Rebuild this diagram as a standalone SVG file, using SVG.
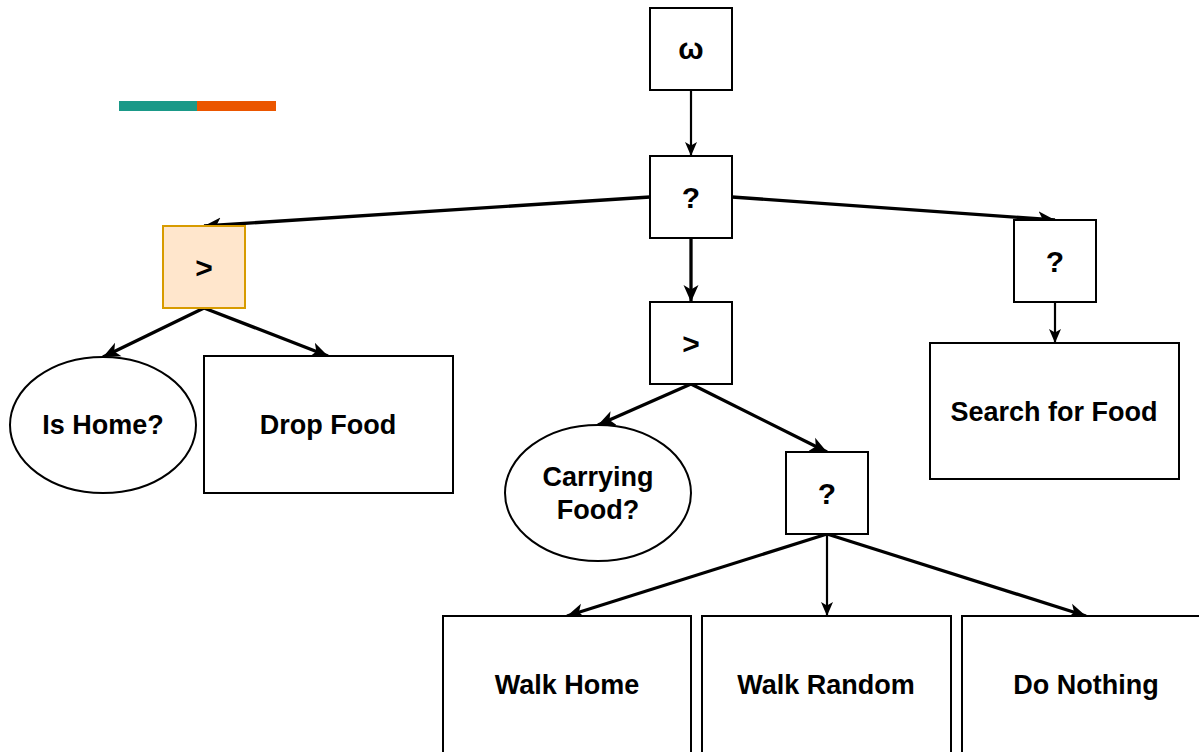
<svg xmlns="http://www.w3.org/2000/svg" width="1199" height="752" viewBox="0 0 1199 752">
<style>
.n{fill:#fff;stroke:#000;stroke-width:2}
.o{fill:#ffe6cc;stroke:#d79b00;stroke-width:2}
.t{font-family:"Liberation Sans",Arial,sans-serif;font-weight:bold;font-size:27px;text-anchor:middle;fill:#000}
.s{font-family:"Liberation Sans",Arial,sans-serif;font-weight:bold;font-size:30px;text-anchor:middle;fill:#000}
.e{fill:none;stroke:#000;stroke-width:3.3;marker-end:url(#a)}
.e1{fill:none;stroke:#000;stroke-width:2.2;marker-end:url(#a2)}
</style>
<defs>
<marker id="a" markerUnits="userSpaceOnUse" markerWidth="20" markerHeight="20" refX="17" refY="9" orient="auto" viewBox="0 0 20 18">
<path d="M0,1.5 L17,9 L0,16.5 L4.5,9 Z" fill="#000"/>
</marker>
<marker id="a2" markerUnits="userSpaceOnUse" markerWidth="16" markerHeight="14" refX="14" refY="7" orient="auto" viewBox="0 0 16 14">
<path d="M0,1 L14,7 L0,13 L3.5,7 Z" fill="#000"/>
</marker>
</defs>
<g id="legend">
<rect x="119" y="101" width="78" height="10" fill="#1a9988"/>
<rect x="197" y="101" width="79" height="10" fill="#eb5600"/>
</g>
<g id="connectors">
<path class="e1" d="M691,90 L691,156"/>
<path class="e" d="M691,238 L691,302"/>
<path class="e" d="M650,197 L204,226"/>
<path class="e" d="M732,197 L1055,220"/>
<path class="e" d="M204,308 L103,357"/>
<path class="e" d="M204,308 L328,356"/>
<path class="e1" d="M1055,302 L1055,343"/>
<path class="e" d="M691,384 L598,425"/>
<path class="e" d="M691,384 L827,452"/>
<path class="e" d="M827,534 L567,616"/>
<path class="e1" d="M827,534 L827,616"/>
<path class="e" d="M827,534 L1086,616"/>
</g>
<g id="omega"><rect class="n" x="650" y="8" width="82" height="82"/><text class="s" x="691" y="59">ω</text></g>
<g id="sel-root"><rect class="n" x="650" y="156" width="82" height="82"/><text class="s" x="691" y="208">?</text></g>
<g id="seq-left"><rect class="o" x="163" y="226" width="82" height="82"/><text class="s" x="204" y="278">&gt;</text></g>
<g id="seq-mid"><rect class="n" x="650" y="302" width="82" height="82"/><text class="s" x="691" y="354">&gt;</text></g>
<g id="sel-right"><rect class="n" x="1014" y="220" width="82" height="82"/><text class="s" x="1055" y="272">?</text></g>
<g id="is-home"><ellipse class="n" cx="103" cy="425" rx="93" ry="68"/><text class="t" x="103" y="434">Is Home?</text></g>
<g id="drop-food"><rect class="n" x="204" y="356" width="249" height="137"/><text class="t" x="328" y="434">Drop Food</text></g>
<g id="search-food"><rect class="n" x="930" y="343" width="249" height="136"/><text class="t" x="1054" y="421">Search for Food</text></g>
<g id="carrying"><ellipse class="n" cx="598" cy="493" rx="93" ry="68"/><text class="t" x="598" y="486">Carrying</text><text class="t" x="598" y="519">Food?</text></g>
<g id="sel-lower"><rect class="n" x="786" y="452" width="82" height="82"/><text class="s" x="827" y="504">?</text></g>
<g id="walk-home"><rect class="n" x="443" y="616" width="248" height="140"/><text class="t" x="567" y="694">Walk Home</text></g>
<g id="walk-random"><rect class="n" x="702" y="616" width="249" height="140"/><text class="t" x="826" y="694">Walk Random</text></g>
<g id="do-nothing"><rect class="n" x="962" y="616" width="249" height="140"/><text class="t" x="1086" y="694">Do Nothing</text></g>
</svg>
